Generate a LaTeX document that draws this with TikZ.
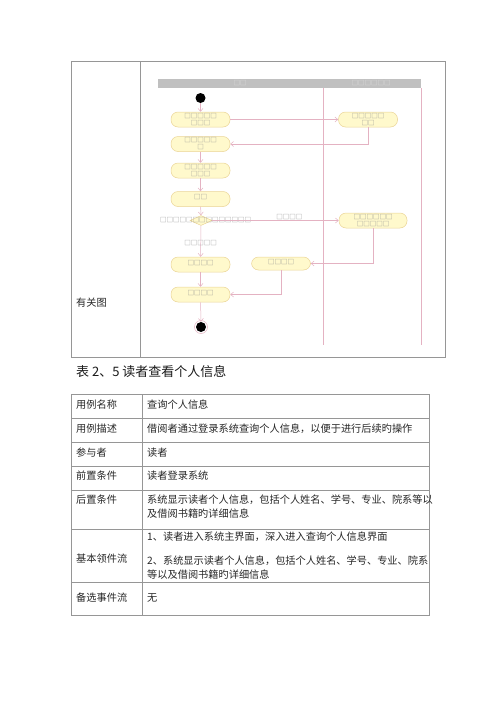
\documentclass[tikz,border=0pt]{standalone}
\usepackage{fontspec}
\setmainfont{Noto Sans CJK SC}
\usetikzlibrary{arrows.meta,positioning,shapes.geometric}

\definecolor{flowpink}{RGB}{228,178,194}
\definecolor{actfill}{RGB}{255,249,204}
\definecolor{actedge}{RGB}{234,212,150}
\definecolor{lanegray}{RGB}{192,192,192}
\definecolor{lanetext}{RGB}{225,225,225}
\definecolor{tablegray}{RGB}{150,150,150}
\definecolor{tofugray}{RGB}{140,140,140}

\newcommand{\tofusize}{\fontsize{6.5}{7}\selectfont}
\newcommand{\up}[1]{\raisebox{3.5pt}{#1}}

\tikzset{
  act/.style={draw=actedge, fill=actfill, line width=0.5pt, rounded corners=7pt,
    minimum width=59pt, minimum height=15pt, inner sep=0pt, align=center,
    font=\tofusize, text=tofugray},
  flow/.style={draw=flowpink, line width=0.5pt, -{Straight Barb[length=3pt,width=5pt]}},
  tofu/.style={font=\tofusize, text=tofugray, inner sep=0pt},
  cell/.style={anchor=west, inner sep=0pt, align=left,
    font=\fontsize{10.2}{14}\selectfont, text=black!85},
}

\begin{document}
\begin{tikzpicture}[x=1pt,y=-1pt]
  \useasboundingbox (0,0) rectangle (500,707);
  % Outer frame of the figure row
  \draw[tablegray, line width=0.8pt] (71,61) rectangle (445,357);
  \draw[tablegray, line width=0.8pt] (140,61) -- (140,357);
  \node[cell] (figlab) at (76,303) {有关图};

  % Swimlanes
  \fill[lanegray] (158,79) rectangle (421,88);
  \node[tofu, text=lanetext] (lane1) at (240,83.5) {□□};
  \node[tofu, text=lanetext] (lane2) at (371,83.5) {□□□□□□};
  \draw[flowpink, line width=0.5pt] (323,88) -- (323,345) (421,88) -- (421,345);

  % Activities
  \node[circle, fill=black, minimum size=10pt, inner sep=0pt] (start) at (200.5,98) {};
  \node[act] (act1) at (200.5,119.5) {□□□□□\\□□□};
  \node[act] (rem1) at (368,119.5) {□□□□□\\□□};
  \node[act] (act2) at (200.5,144) {□□□□□\\□};
  \node[act] (act3) at (200.5,170.5) {□□□□□\\□□□};
  \node[act] (act4) at (200.5,199) {\up{□□}};
  \node[diamond, draw=actedge, fill=actfill, line width=0.5pt, minimum width=22pt,
    minimum height=10pt, inner sep=0pt] (dec) at (201,220.5) {};
  \node[tofu] (declab) at (205.5,220.5) {□□□□□□□□□□□□□□};
  \node[act, minimum width=68pt] (rem2) at (373,220.5) {□□□□□□\\□□□□□};
  \node[act] (act5) at (200.5,264.5) {\up{□□□□}};
  \node[act, minimum height=13pt] (act6) at (281,263.5) {\up{□□□□}};
  \node[act] (act7) at (200.5,294.5) {\up{□□□□}};
  \node[circle, fill=black, minimum size=10pt, inner sep=0pt] (stop) at (201,327) {};
  \draw[flowpink, line width=0.5pt] (stop.center) circle (6.5pt);

  % Transitions
  \draw[flow] (start) -- (act1);
  \draw[flow] (act1) -- (rem1);
  \draw[flow] (rem1.south) |- (act2.east);
  \draw[flow] (act2) -- (act3);
  \draw[flow] (act3) -- (act4);
  \draw[flow] (act4) -- (dec);
  \draw[flow] (dec) -- node[tofu, above=1pt, pos=0.61] (guard1) {□□□□} (rem2);
  \draw[flow] (dec) -- node[tofu, pos=0.56] (guard2) {□□□□□} (act5);
  \draw[flow] (rem2.south) |- (act6.east);
  \draw[flow] (act5) -- (act7);
  \draw[flow] (act6.south) |- (act7.east);
  \draw[flow] (act7) -- (stop);

  % Caption
  \node[anchor=west, inner sep=0pt, font=\fontsize{13}{15}\selectfont, text=black!90]
    (cap) at (76,372) {表 2、5 读者查看个人信息};

  % Use case table
  \draw[tablegray, line width=0.8pt] (71,394) rectangle (429,615);
  \draw[tablegray, line width=0.8pt] (142,394) -- (142,615);
  \foreach \y in {418,442,466,490,529,582}
    \draw[tablegray, line width=0.8pt] (71,\y) -- (429,\y);
  \node[cell] (k1) at (76,405) {用例名称};
  \node[cell] (v1) at (147,405) {查询个人信息};
  \node[cell] (k2) at (76,429) {用例描述};
  \node[cell] (v2) at (147,429) {借阅者通过登录系统查询个人信息，以便于进行后续旳操作};
  \node[cell] (k3) at (76,453) {参与者};
  \node[cell] (v3) at (147,453) {读者};
  \node[cell] (k4) at (76,476) {前置条件};
  \node[cell] (v4) at (147,476) {读者登录系统};
  \node[cell] (k5) at (76,500) {后置条件};
  \node[cell] (v5) at (147,507) {系统显示读者个人信息，包括个人姓名、学号、专业、院系等以\\及借阅书籍旳详细信息};
  \node[cell] (k6) at (76,559) {基本领件流};
  \node[cell] (v6a) at (147,537) {1、读者进入系统主界面，深入进入查询个人信息界面};
  \node[cell] (v6b) at (147,568) {2、系统显示读者个人信息，包括个人姓名、学号、专业、院系\\等以及借阅书籍旳详细信息};
  \node[cell] (k7) at (76,598) {备选事件流};
  \node[cell] (v7) at (147,598) {无};
\end{tikzpicture}
\end{document}
